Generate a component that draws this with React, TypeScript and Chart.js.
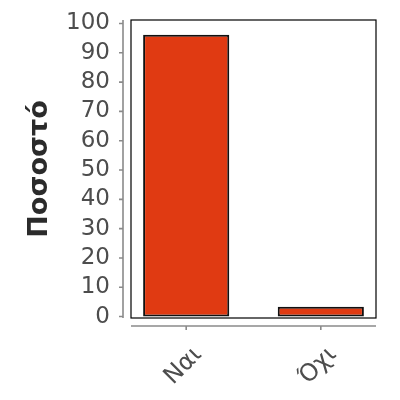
import Chart from 'chart.js/auto';
import React, { useEffect, useRef } from 'react';

const categories = ['Ναι', 'Όχι'];
const percentages = [96.2, 3.3];
const yTicks = [0, 10, 20, 30, 40, 50, 60, 70, 80, 90, 100];

const FONT = "'DejaVu Sans', sans-serif";
const TEXT = '#4d4d4d';
const AXIS = '#8a8a8a';

// black panel border plus the detached grey axis lines (ggplot-like)
const panelAxes = {
    id: 'panelAxes',
    afterDraw(chart: any) {
        const { ctx, chartArea, scales } = chart;
        const { left, right, top, bottom } = chartArea;
        ctx.save();
        ctx.strokeStyle = '#000';
        ctx.lineWidth = 1.2;
        ctx.strokeRect(left, top, right - left, bottom - top);

        ctx.strokeStyle = AXIS;
        ctx.lineWidth = 1.6;
        const ax = left - 8;
        ctx.beginPath();
        ctx.moveTo(ax, top);
        ctx.lineTo(ax, bottom);
        yTicks.forEach((v) => {
            const py = scales.y.getPixelForValue(v);
            ctx.moveTo(ax - 4, py);
            ctx.lineTo(ax, py);
        });
        const ay = bottom + 8;
        ctx.moveTo(left, ay);
        ctx.lineTo(right, ay);
        categories.forEach((_, i) => {
            const px = scales.x.getPixelForValue(i + 1);
            ctx.moveTo(px, ay);
            ctx.lineTo(px, ay + 4);
        });
        ctx.stroke();
        ctx.restore();
    },
};

const App: React.FC = () => {
    const canvasRef = useRef<HTMLCanvasElement>(null);

    useEffect(() => {
        if (!canvasRef.current) return;
        const ctx = canvasRef.current.getContext('2d');
        if (!ctx) return;
        const myChart = new Chart(ctx, {
            type: 'bar',
            data: {
                datasets: [
                    {
                        data: percentages.map((y, i) => ({ x: i + 1, y })),
                        backgroundColor: '#e03a12',
                        borderColor: '#111',
                        borderWidth: 2,
                        borderSkipped: false,
                        barPercentage: 0.64,
                        categoryPercentage: 1,
                    },
                ],
            },
            options: {
                animation: false,
                responsive: true,
                maintainAspectRatio: false,
                layout: { padding: { top: 20, right: 24, left: 0, bottom: 0 } },
                plugins: {
                    legend: { display: false },
                    tooltip: { enabled: false },
                },
                scales: {
                    x: {
                        type: 'linear',
                        offset: false,
                        min: 0.59,
                        max: 2.41,
                        grid: { display: false, drawTicks: false },
                        border: { display: false },
                        afterBuildTicks: (scale: any) => {
                            scale.ticks = categories.map((_, i) => ({ value: i + 1 }));
                        },
                        afterFit: (scale: any) => {
                            scale.height = 82;
                            scale.paddingLeft = 0;
                            scale.paddingRight = 0;
                        },
                        ticks: {
                            autoSkip: false,
                            minRotation: 45,
                            maxRotation: 45,
                            padding: 23,
                            labelOffset: 12,
                            color: TEXT,
                            font: { family: FONT, size: 24 },
                            callback: (v: any) => categories[Number(v) - 1] ?? '',
                        },
                    },
                    y: {
                        min: -0.5,
                        max: 101.2,
                        grid: { display: false, drawTicks: false },
                        border: { display: false },
                        afterBuildTicks: (scale: any) => {
                            scale.ticks = yTicks.map((value) => ({ value }));
                        },
                        afterFit: (scale: any) => {
                            scale.width = 131;
                            scale.paddingTop = 0;
                            scale.paddingBottom = 0;
                        },
                        ticks: {
                            autoSkip: false,
                            padding: 21,
                            color: TEXT,
                            font: { family: FONT, size: 23 },
                        },
                        title: {
                            display: true,
                            text: 'Ποσοστό',
                            color: '#2b2b2b',
                            padding: { top: 24, bottom: 0 },
                            font: { family: FONT, size: 27, weight: 'bold' },
                        },
                    },
                },
            },
            plugins: [panelAxes],
        });

        return () => {
            myChart.destroy();
        };
    }, []);

    return (
        <div style={{ position: 'absolute', left: 0, top: 0, width: 400, height: 400 }}>
            <canvas ref={canvasRef} />
        </div>
    );
};

export default App;
